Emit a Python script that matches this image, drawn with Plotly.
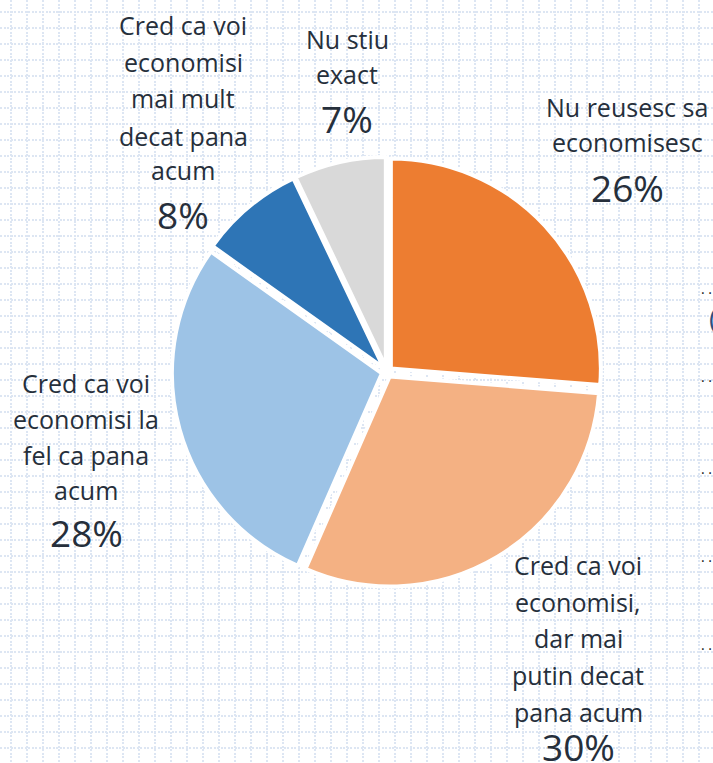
import plotly.graph_objects as go

# ---- data ----
label_lines = [
    ["Nu reusesc sa", "economisesc"],
    ["Cred ca voi", "economisi,", "dar mai", "putin decat", "pana acum"],
    ["Cred ca voi", "economisi la", "fel ca pana", "acum"],
    ["Cred ca voi", "economisi", "mai mult", "decat pana", "acum"],
    ["Nu stiu", "exact"],
]
categories = [" ".join(l) for l in label_lines]
values = [26, 30, 28, 8, 7]
pct_labels = ["26%", "30%", "28%", "8%", "7%"]

# ---- layout / style ----
W, H = 713, 763
colors = ["#ED7D31", "#F4B183", "#9DC3E6", "#2E75B6", "#D9D9D9"]
text_color = "#262f3b"
font_family = "Open Sans"

# label block placement (pixel centers): x, line ys, percent y
label_pos = [
    (627, [107, 142], 187),
    (578, [565, 602, 638, 675, 712], 746),
    (86, [383, 419, 455, 490], 532),
    (183, [25, 62, 98, 136, 170], 214),
    (347, [39, 74], 118),
]

cx, cy, r, pull = 387, 372, 210, 0.025
half = r * (1 + pull)

fig = go.Figure()
# empty trace to create the background axes (dotted grid)
fig.add_trace(go.Scatter(x=[], y=[], showlegend=False, hoverinfo="skip"))

fig.add_trace(go.Pie(
    labels=categories,
    values=values,
    sort=False,
    direction="clockwise",
    rotation=0,
    textinfo="none",
    hoverinfo="label+percent",
    pull=pull,
    marker=dict(colors=colors, line=dict(color="white", width=4)),
    domain=dict(x=[(cx - half) / W, (cx + half) / W],
                y=[1 - (cy + half) / H, 1 - (cy - half) / H]),
    showlegend=False,
))

annotations = []
for lines, pct, (x, ys, py) in zip(label_lines, pct_labels, label_pos):
    for line, y in zip(lines, ys):
        annotations.append(dict(x=x, y=y, xref="x", yref="y", text=line,
                                showarrow=False, xanchor="center", yanchor="middle",
                                font=dict(family=font_family, size=25, color=text_color)))
    annotations.append(dict(x=x, y=py, xref="x", yref="y", text=pct,
                            showarrow=False, xanchor="center", yanchor="middle",
                            font=dict(family=font_family, size=37, color=text_color)))

# cut-off items at right edge
for y in [292, 380, 472, 560, 648]:
    annotations.append(dict(x=699, y=y, xref="x", yref="y", text="· ·",
                            showarrow=False, xanchor="left", yanchor="middle",
                            font=dict(family=font_family, size=14, color="#111111")))
annotations.append(dict(x=707, y=318, xref="x", yref="y", text="(",
                        showarrow=False, xanchor="left", yanchor="middle",
                        font=dict(family=font_family, size=28, color="#2f4f80")))

grid_style = dict(showgrid=True, gridcolor="#dde6f3", gridwidth=2, griddash="2px,1.5px",
                  zeroline=False, showticklabels=False, ticks="", showline=False,
                  dtick=16, fixedrange=True)

fig.update_layout(
    width=W, height=H,
    margin=dict(l=0, r=0, t=0, b=0),
    paper_bgcolor="white", plot_bgcolor="white",
    xaxis=dict(range=[0, W], tick0=11, **grid_style),
    yaxis=dict(range=[H, 0], tick0=12, **grid_style),
    annotations=annotations,
)

fig.write_html("out.html", post_script="document.body.style.margin='0';",
               config={"displayModeBar": False})
